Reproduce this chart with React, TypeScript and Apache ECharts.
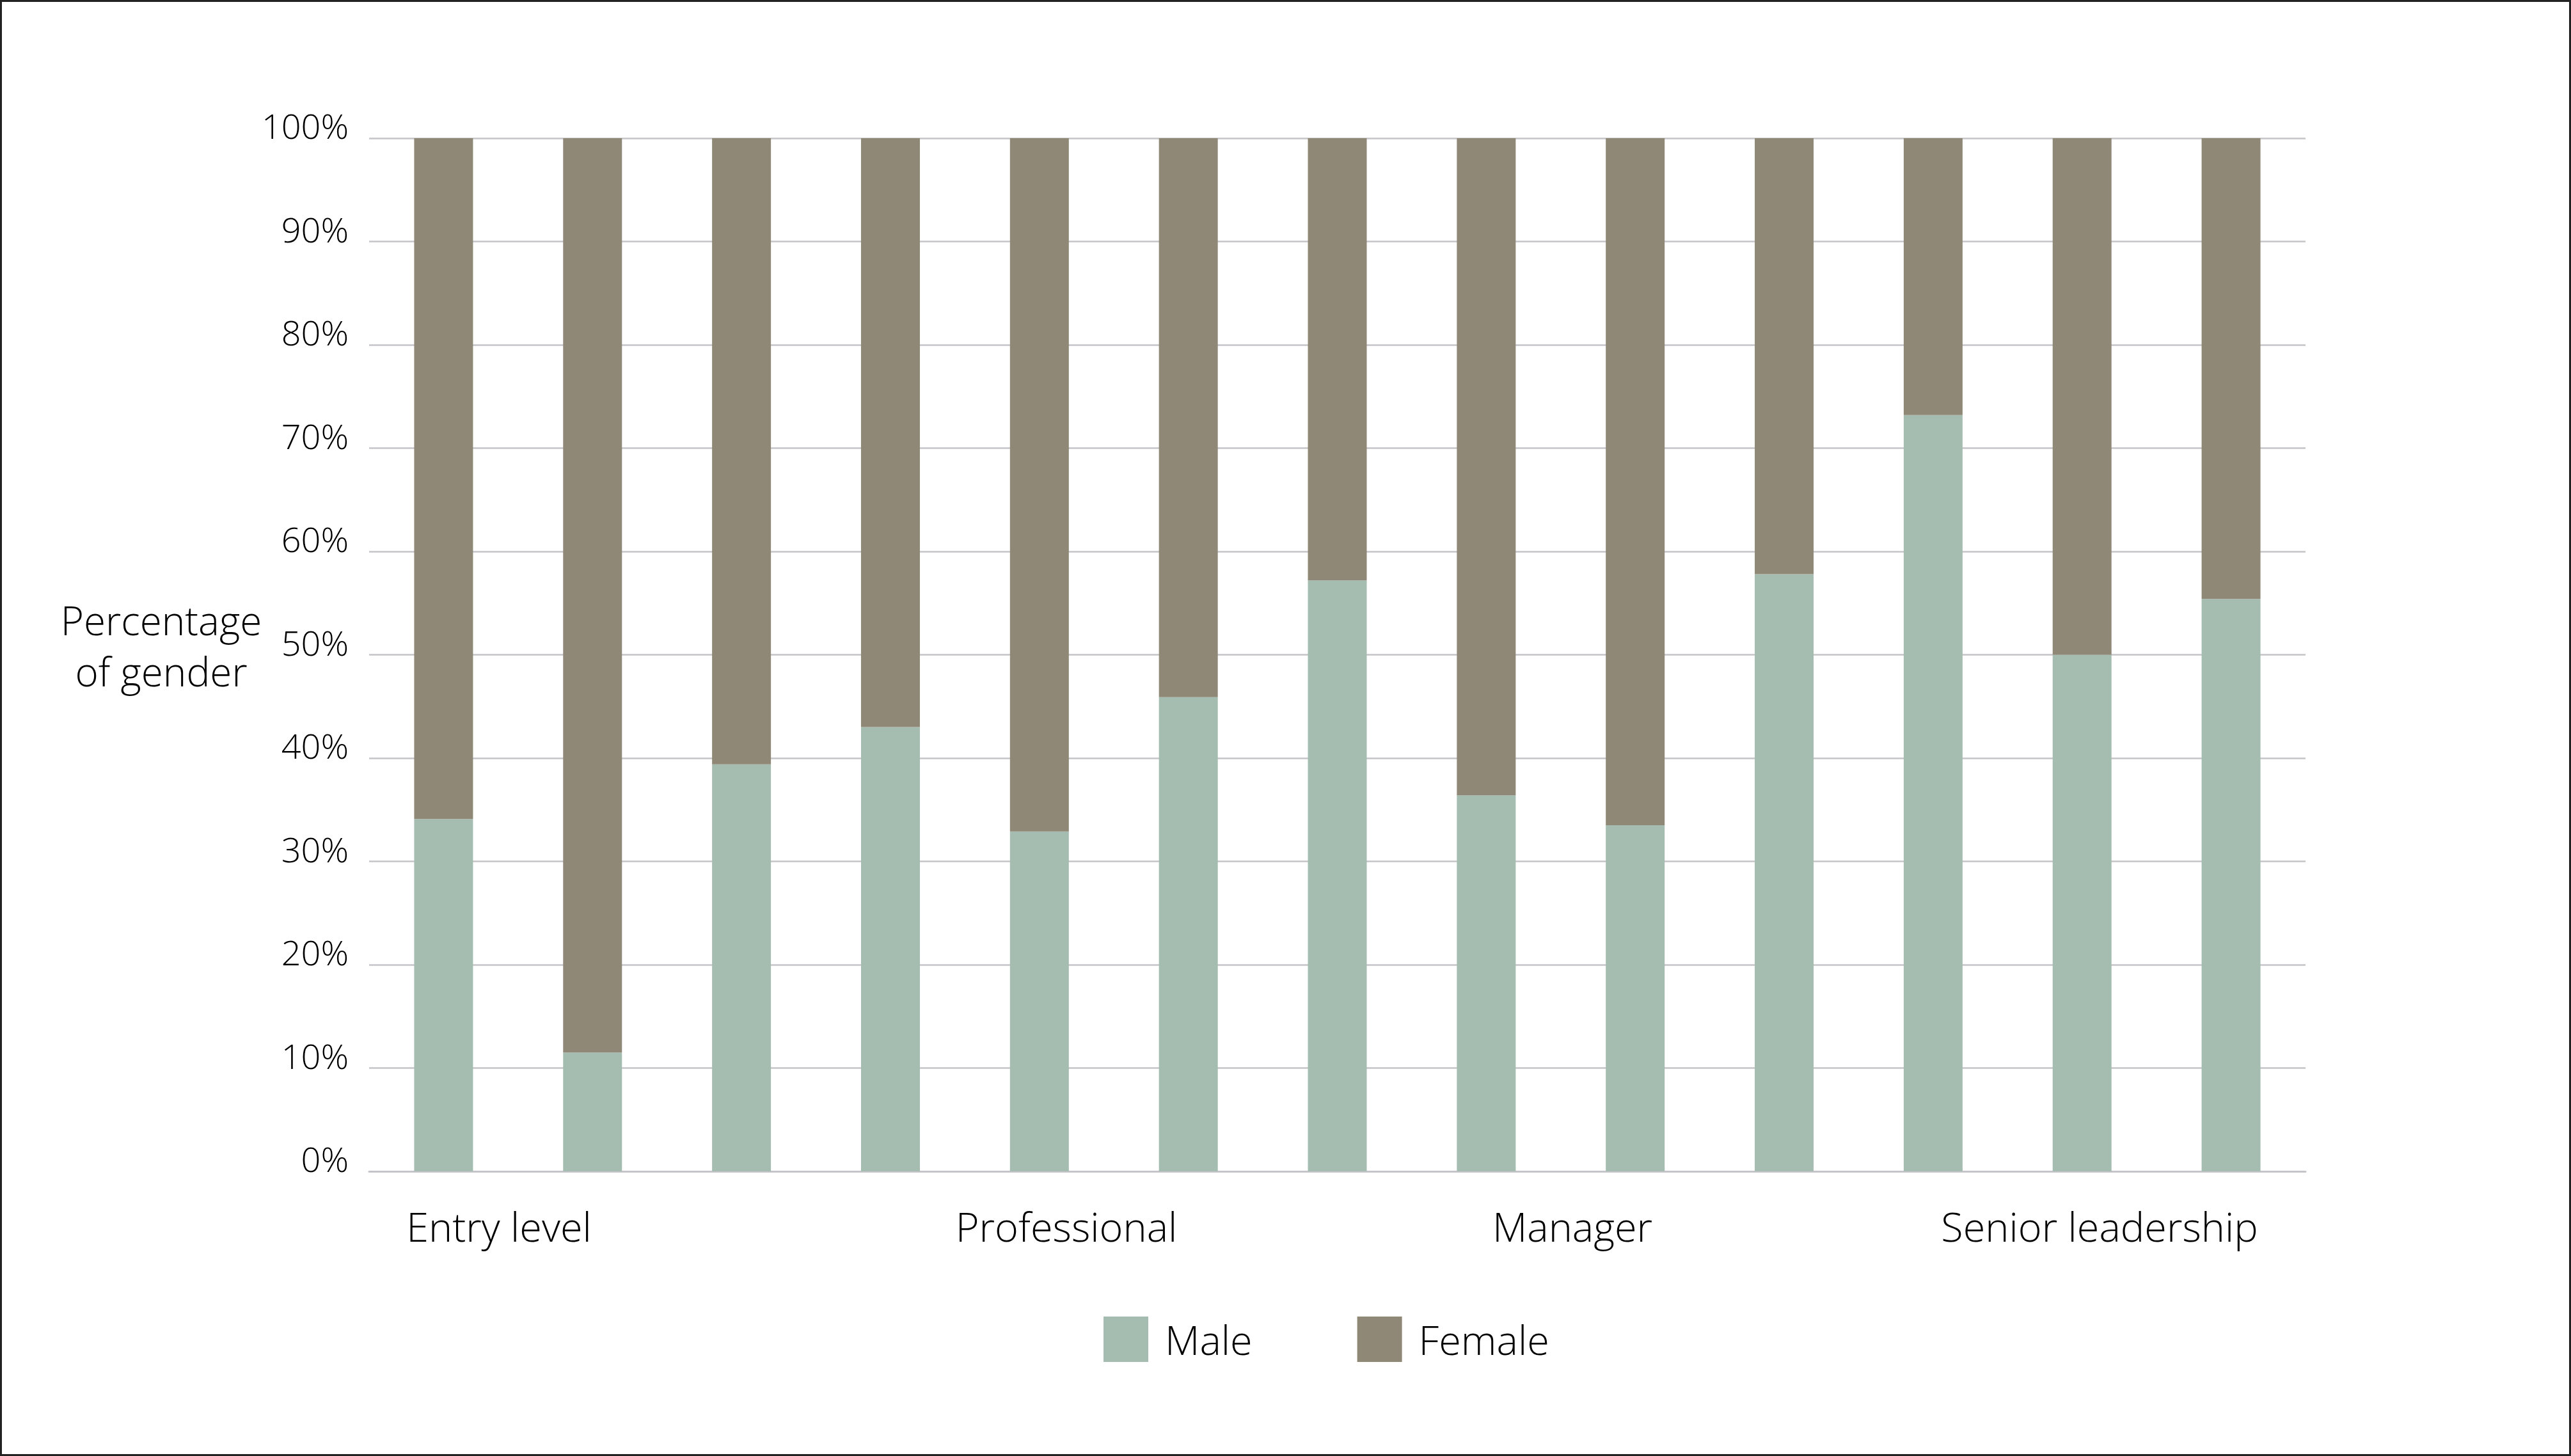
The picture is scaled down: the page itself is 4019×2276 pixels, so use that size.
import { useEffect, useRef } from "react"
import * as echarts from "echarts"

const W = 4019
const H = 2276

// one bar per sub-group; the axis itself shows only the four band labels
const barNames = [
  "Entry level 1", "Entry level 2", "Entry level 3",
  "Professional 1", "Professional 2", "Professional 3", "Professional 4",
  "Manager 1", "Manager 2", "Manager 3",
  "Senior leadership 1", "Senior leadership 2", "Senior leadership 3",
]
const malePct = [34.1, 11.5, 39.4, 43.0, 32.9, 45.9, 57.2, 36.4, 33.5, 57.8, 73.2, 50.0, 55.4]
const femalePct = [65.9, 88.5, 60.6, 57.0, 67.1, 54.1, 42.8, 63.6, 66.5, 42.2, 26.8, 50.0, 44.6]
const groupLabels = ["Entry level", "Professional", "Manager", "Senior leadership"]
const groupLabelX = [780, 1667, 2458, 3282]

const FONT = "Open Sans"
const WEIGHT = 350
const MALE = "#a5bcb0"
const FEMALE = "#8f8877"
const GRID = "#c5c5c9"

export default function App() {
  const hostRef = useRef<HTMLDivElement>(null)

  useEffect(() => {
    const el = hostRef.current
    if (!el) return
    const chart = echarts.init(el, undefined, { renderer: "svg" })

    chart.setOption({
      animation: false,
      backgroundColor: "#ffffff",
      textStyle: { fontFamily: FONT, color: "#000" },
      grid: { left: 577, right: 415, top: 216, bottom: 445, containLabel: false },
      legend: {
        left: 1720,
        top: 2053,
        icon: "rect",
        itemWidth: 70,
        itemHeight: 71,
        itemGap: 164,
        data: ["Male", "Female"],
        textStyle: {
          fontFamily: FONT,
          fontWeight: WEIGHT,
          fontSize: 63,
          lineHeight: 51,
          color: "#000",
          padding: [0, 0, 20, 21],
        },
      },
      xAxis: {
        type: "category",
        data: barNames,
        axisLine: { lineStyle: { color: GRID, width: 3 } },
        axisTick: { show: false },
        axisLabel: { show: false },
      },
      yAxis: {
        type: "value",
        min: 0,
        max: 100,
        interval: 10,
        axisLine: { show: false },
        axisTick: { show: false },
        splitLine: { lineStyle: { color: GRID, width: 2.5 } },
        axisLabel: {
          formatter: "{value}%",
          fontFamily: FONT,
          fontWeight: WEIGHT,
          fontSize: 54,
          color: "#000",
          margin: 32,
          verticalAlign: "bottom",
          lineHeight: 40,
        },
      },
      series: [
        {
          name: "Male",
          type: "bar",
          stack: "gender",
          barWidth: 92,
          data: malePct,
          itemStyle: { color: MALE },
        },
        {
          name: "Female",
          type: "bar",
          stack: "gender",
          barWidth: 92,
          data: femalePct,
          itemStyle: { color: FEMALE },
        },
      ],
      graphic: [
        {
          type: "rect",
          shape: { x: 1.5, y: 1.5, width: W - 3, height: H - 3 },
          style: { fill: "none", stroke: "#222", lineWidth: 3 },
          silent: true,
        },
        {
          type: "text",
          x: 252,
          y: 1009,
          style: {
            text: "Percentage\nof gender",
            font: `${WEIGHT} 62px "${FONT}"`,
            fill: "#000",
            textAlign: "center",
            textVerticalAlign: "middle",
            lineHeight: 80,
          },
        },
        ...groupLabels.map((label, i) => ({
          type: "text",
          x: groupLabelX[i],
          y: 1916,
          style: {
            text: label,
            font: `${WEIGHT} 63px "${FONT}"`,
            fill: "#000",
            textAlign: "center",
            textVerticalAlign: "middle",
          },
        })),
      ],
    })

    return () => {
      chart.dispose()
    }
  }, [])

  return (
    <div
      ref={hostRef}
      style={{ position: "fixed", left: 0, top: 0, width: W, height: H }}
    />
  )
}
